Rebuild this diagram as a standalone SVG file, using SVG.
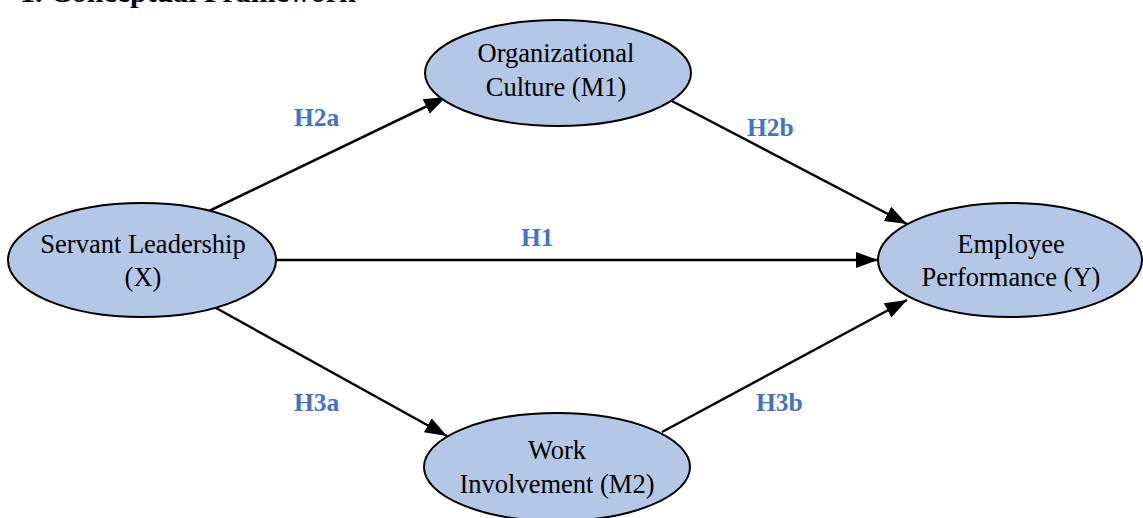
<svg xmlns="http://www.w3.org/2000/svg" width="1143" height="518" viewBox="0 0 1143 518">
  <defs>
    <style>
      .node ellipse { fill: #B4C7E7; stroke: #000; stroke-width: 2; }
      .node text { font-family: "Liberation Serif", "Times New Roman", serif; font-size: 26.5px; fill: #000; text-anchor: middle; }
      .lbl { font-family: "Liberation Serif", "Times New Roman", serif; font-size: 25.5px; font-weight: bold; fill: #4472C4; }
      .title { font-family: "Liberation Serif", "Times New Roman", serif; font-size: 30px; font-weight: bold; fill: #000; }
      #connectors line { stroke: #000; stroke-width: 2.5; marker-end: url(#arrow); }
    </style>
    <marker id="arrow" markerUnits="userSpaceOnUse" markerWidth="24" markerHeight="18" refX="22" refY="8" orient="auto">
      <path d="M0,0 L22,8 L0,16 Z" fill="#000"/>
    </marker>
  </defs>
  <rect width="1143" height="518" fill="#fff"/>
  <text class="title" x="20" y="2">1. Conceptual Framework</text>

  <g id="connectors">
    <line x1="207" y1="212" x2="446" y2="97"/>
    <line x1="668" y1="99" x2="907" y2="224"/>
    <line x1="276" y1="260" x2="878" y2="260"/>
    <line x1="216" y1="308" x2="447" y2="436"/>
    <line x1="662" y1="432" x2="907" y2="300"/>
  </g>

  <g id="labels">
    <text class="lbl" x="294" y="126">H2a</text>
    <text class="lbl" x="747" y="136">H2b</text>
    <text class="lbl" x="521" y="246">H1</text>
    <text class="lbl" x="294" y="411">H3a</text>
    <text class="lbl" x="756" y="411">H3b</text>
  </g>

  <g id="node-x" class="node">
    <ellipse cx="142" cy="260" rx="134" ry="57"/>
    <text x="143" y="253">Servant Leadership</text>
    <text x="143" y="286">(X)</text>
  </g>

  <g id="node-m1" class="node">
    <ellipse cx="558" cy="73" rx="133" ry="53"/>
    <text x="556" y="62">Organizational</text>
    <text x="556" y="96">Culture (M1)</text>
  </g>

  <g id="node-y" class="node">
    <ellipse cx="1010" cy="260" rx="132" ry="57"/>
    <text x="1011" y="253">Employee</text>
    <text x="1011" y="286">Performance (Y)</text>
  </g>

  <g id="node-m2" class="node">
    <ellipse cx="557" cy="467" rx="133" ry="54"/>
    <text x="557" y="459">Work</text>
    <text x="557" y="493">Involvement (M2)</text>
  </g>
</svg>
